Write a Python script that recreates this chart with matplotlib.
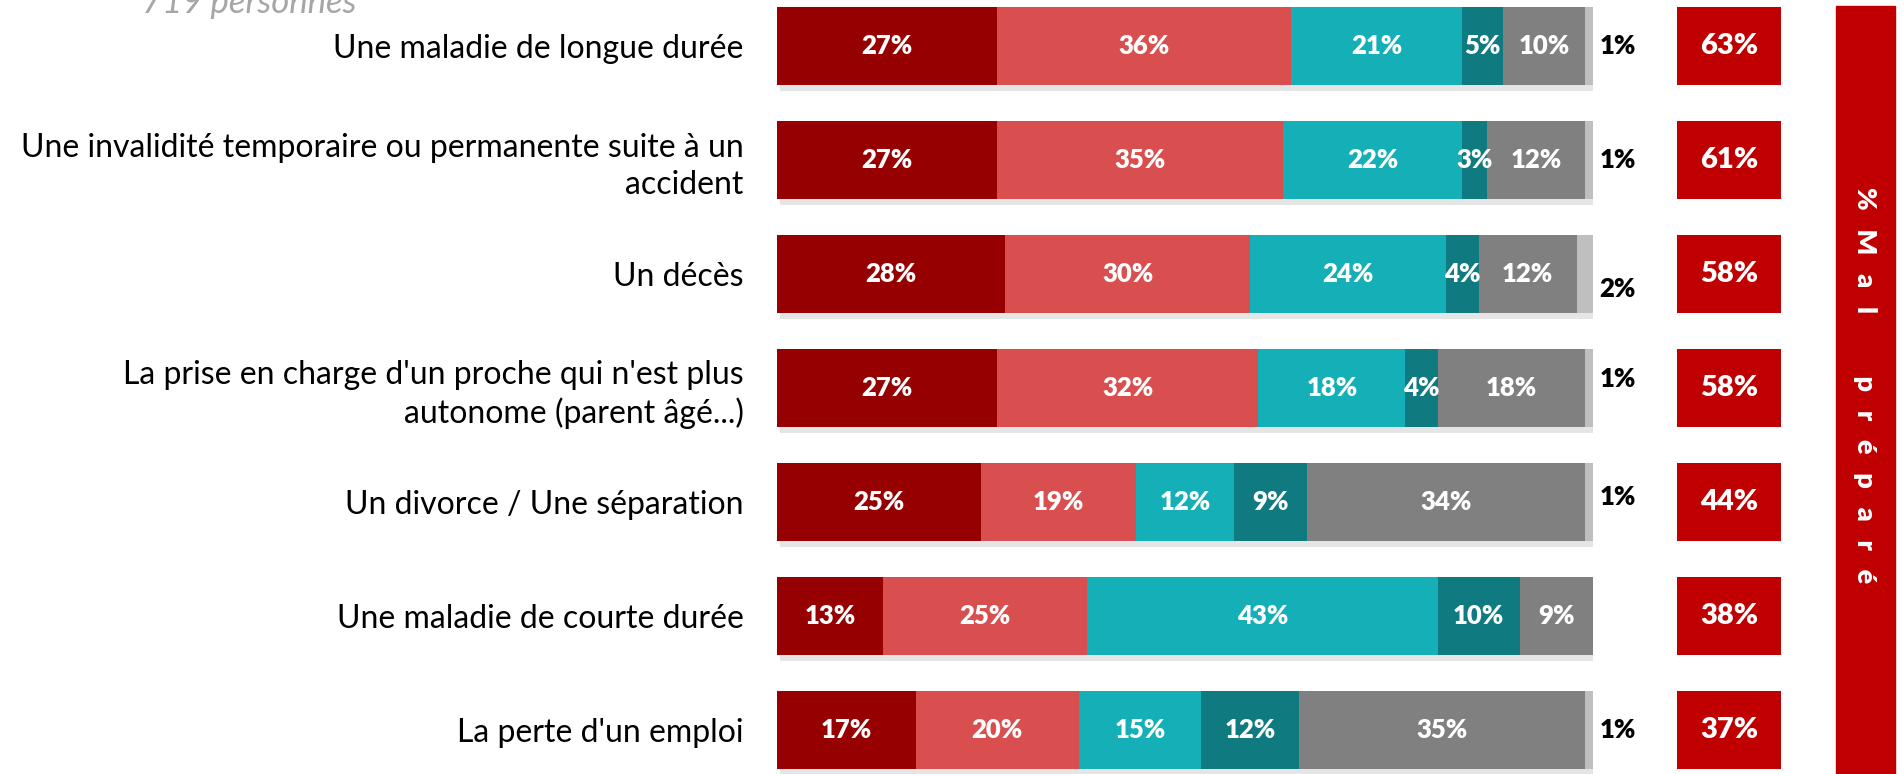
import matplotlib.pyplot as plt
import matplotlib.patheffects as pe
from matplotlib.patches import Rectangle
import numpy as np

plt.rcParams['font.family'] = ['Lato', 'DejaVu Sans']

# donnees
categories = [
    "Une maladie de longue durée",
    "Une invalidité temporaire ou permanente suite à un\naccident",
    "Un décès",
    "La prise en charge d'un proche qui n'est plus\nautonome (parent âgé...)",
    "Un divorce / Une séparation",
    "Une maladie de courte durée",
    "La perte d'un emploi",
]
tres_mal = [27, 27, 28, 27, 25, 13, 17]
plutot_mal = [36, 35, 30, 32, 19, 25, 20]
plutot_bien = [21, 22, 24, 18, 12, 43, 15]
tres_bien = [5, 3, 4, 4, 9, 10, 12]
non_concerne = [10, 12, 12, 18, 34, 9, 35]
nsp = [1, 1, 2, 1, 1, 0, 1]
mal_prepare = [63, 61, 58, 58, 44, 38, 37]

series = [tres_mal, plutot_mal, plutot_bien, tres_bien, non_concerne, nsp]
couleurs = ['#960000', '#D94F4F', '#14AFB7', '#0F7A80', '#808080', '#BFBFBF']

W, H = 1904, 774
fig = plt.figure(figsize=(W / 100, H / 100), dpi=100)

# axe principal (barres empilees)
x0, x100 = 777, 1593
ax = fig.add_axes([x0 / W, 0, (x100 - x0) / W, 1])
y = np.arange(len(categories))
pas = 114
ylim = (((H - 46) / pas), -46 / pas)
haut = 0.685

ombre = [pe.SimplePatchShadow(offset=(2, -4), shadow_rgbFace='#8c8c8c', alpha=0.22), pe.Normal()]
gauche = np.zeros(len(categories))
for k, (vals, c) in enumerate(zip(series, couleurs)):
    bars = ax.barh(y, vals, left=gauche, height=haut, color=c, edgecolor='none')
    for b in bars:
        b.set_path_effects(ombre)
    for i, v in enumerate(vals):
        if v == 0:
            continue
        if k < 5:
            ax.text(gauche[i] + v / 2, y[i], f'{v}%', ha='center', va='center',
                    color='white', fontsize=18.5, fontweight='heavy')
        else:
            # petits decalages verticaux comme sur l'original
            dy = {2: 0.13, 3: -0.08, 4: -0.04}.get(i, 0)
            ax.text(gauche[i] + v + 0.8, y[i] + dy, f'{v}%', ha='left', va='center',
                    color='black', fontsize=18.5, fontweight='heavy')
    gauche += np.array(vals)

ax.set_xlim(0, 100)
ax.set_ylim(*ylim)
ax.set_yticks(y)
ax.set_yticklabels(categories, fontsize=23, linespacing=1.3)
ax.tick_params(axis='y', length=0, pad=24)
ax.set_xticks([])
for s in ax.spines.values():
    s.set_visible(False)
ax.patch.set_alpha(0)

# colonne "% Mal prepare"
ax2 = fig.add_axes([1677 / W, 0, (1781 - 1677) / W, 1])
ax2.barh(y, [1] * len(y), height=haut, color='#C00000', edgecolor='none')
for i, v in enumerate(mal_prepare):
    ax2.text(0.5, y[i], f'{v}%', ha='center', va='center', color='white',
             fontsize=21, fontweight='heavy')
ax2.set_xlim(0, 1)
ax2.set_ylim(*ylim)
ax2.axis('off')

# bandeau vertical
fig.patches.append(Rectangle((1836 / W, 0), (1895 - 1836) / W, 1 - 6 / H,
                             transform=fig.transFigure, color='#C00000', zorder=0))
fig.text(1865 / W, 1 - 385 / H, '%   M   a   l          p   r   é   p   a   r   é', rotation=-90,
         ha='center', va='center', color='white', fontsize=19.5, fontweight='heavy')

# sous-titre coupe en haut
fig.text(142 / W, 1 - 13 / H, '719 personnes', ha='left', va='baseline',
         color='#A6A6A6', fontsize=25, style='italic')

fig.savefig('out.png', dpi=100)
